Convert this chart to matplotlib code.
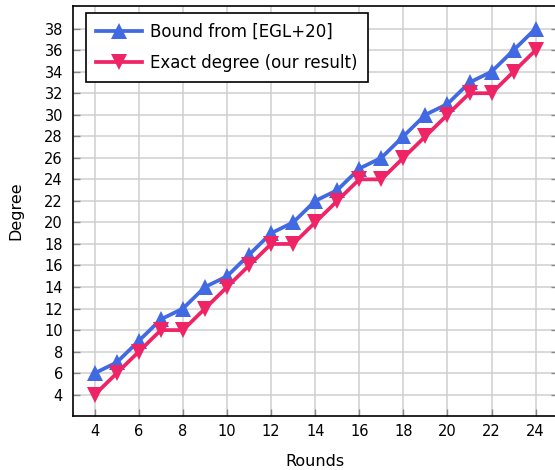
import matplotlib
matplotlib.use("Agg")
import matplotlib.pyplot as plt

rounds = [4, 5, 6, 7, 8, 9, 10, 11, 12, 13, 14, 15, 16, 17, 18, 19, 20, 21, 22, 23, 24]
bound_egl = [6, 7, 9, 11, 12, 14, 15, 17, 19, 20, 22, 23, 25, 26, 28, 30, 31, 33, 34, 36, 38]
exact_degree = [4, 6, 8, 10, 10, 12, 14, 16, 18, 18, 20, 22, 24, 24, 26, 28, 30, 32, 32, 34, 36]

x_ticks = list(range(4, 25, 2))
y_ticks = list(range(4, 39, 2))

plt.rcParams['font.family'] = ['DejaVu Sans']

fig = plt.figure(figsize=(5.55, 4.7), dpi=100)
ax = fig.add_axes([72.7 / 555, 1 - 415.7 / 470, 485 / 555, 409.7 / 470])

blue = "#4169e1"
pink = "#ef2466"

ax.plot(rounds, bound_egl, color=blue, lw=2.7, marker='^', markersize=12,
        markeredgewidth=0, label="Bound from [EGL+20]", zorder=3)
ax.plot(rounds, exact_degree, color=pink, lw=2.7, marker='v', markersize=12,
        markeredgewidth=0, label="Exact degree (our result)", zorder=3)

ax.set_xlim(3, 25)
ax.set_ylim(2.05, 40.1)
ax.set_xticks(x_ticks)
ax.set_yticks(y_ticks)
ax.grid(True, color="#cfcfcf", lw=1.1)
ax.set_axisbelow(True)
ax.tick_params(direction='in', length=5, width=1, color="#888888",
               labelsize=10.5, right=True, top=False)
ax.tick_params(axis='y', pad=7)
ax.tick_params(axis='x', pad=6)
for s in ax.spines.values():
    s.set_linewidth(1.2)
    s.set_color("black")

ax.set_xlabel("Rounds", fontsize=11.5, labelpad=11)
ax.set_ylabel("Degree", fontsize=11.5, labelpad=15)

leg = ax.legend(loc='upper left', bbox_to_anchor=(86 / 555, 1 - 13 / 470),
                bbox_transform=fig.transFigure, borderaxespad=0,
                fontsize=12, fancybox=False, framealpha=1, edgecolor='black',
                handlelength=2.75, handletextpad=0.5, borderpad=0.6,
                labelspacing=0.75)
leg.get_frame().set_linewidth(1.2)

fig.savefig("out.png", dpi=100)
